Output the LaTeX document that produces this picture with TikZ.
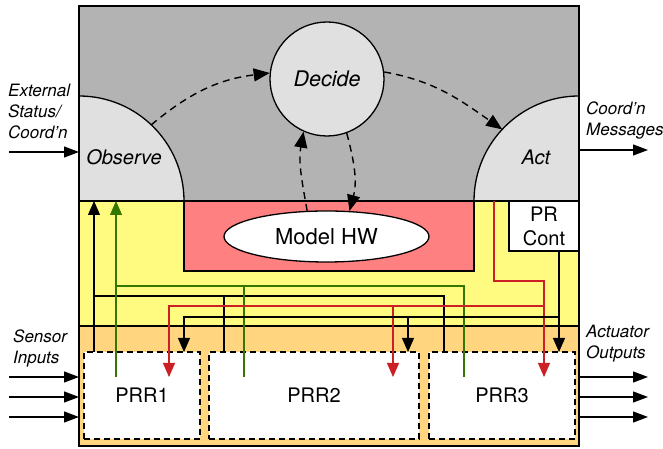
\documentclass[tikz,border=0pt]{standalone}
\usepackage{fontspec}
\setmainfont{TeX Gyre Heros}
\usetikzlibrary{arrows.meta,shapes.geometric}
\definecolor{bggrey}{RGB}{179,179,179}
\definecolor{lightg}{RGB}{224,224,224}
\definecolor{yell}{RGB}{255,250,128}
\definecolor{orng}{RGB}{255,213,128}
\definecolor{pink}{RGB}{255,128,128}
\definecolor{wred}{RGB}{204,31,38}
\definecolor{wgreen}{RGB}{51,119,0}
\begin{document}
\begin{tikzpicture}[x=1pt,y=1pt,
  border/.style={draw=black,line width=1.3pt},
  bubble/.style={fill=lightg,draw=black,line width=1.3pt},
  lbl/.style={font=\fontsize{20}{24}\selectfont},
  ilbl/.style={font=\fontsize{20}{24}\selectfont\itshape},
  ext/.style={font=\fontsize{17}{21}\selectfont\itshape,align=left,inner sep=0pt,anchor=west},
  prr/.style={draw=black,dash pattern=on 6pt off 4pt,fill=white,line width=1.3pt,inner sep=0pt,font=\fontsize{20}{24}\selectfont},
  wire/.style={line width=1.1pt},
  tip/.style={-{Triangle[length=14pt,width=12pt]}},
  flow/.style={line width=1.4pt,dash pattern=on 7pt off 5pt,-{Triangle[length=16pt,width=13pt]}},
  io/.style={line width=1.3pt,-{Triangle[length=15pt,width=11pt]}}
]
\useasboundingbox (0,0) rectangle (663,449);
% regions
\fill[bggrey] (79,248) rectangle (579,443);
\fill[yell] (79,123) rectangle (579,248);
\fill[orng] (79,3) rectangle (579,123);
\node[border,fill=pink,minimum width=290pt,minimum height=70pt,inner sep=0pt] (modelbox) at (329,213) {};
% Observe and Act quarter discs
\filldraw[bubble] (79,248) -- (79,353) arc[start angle=90,end angle=0,radius=105] -- cycle;
\filldraw[bubble] (579,248) -- (579,353) arc[start angle=90,end angle=180,radius=105] -- cycle;
\node[ilbl] (observe) at (124,292) {Observe};
\node[ilbl] (act) at (536,292) {Act};
\coordinate (obsA) at (151.3,324.2);
\coordinate (actA) at (502.2,319.6);
% Decide
\node[bubble,circle,minimum size=114pt,inner sep=0pt,font=\fontsize{21.5}{24}\selectfont\itshape] (decide) at (327,370) {Decide};
% Model HW
\node[ellipse,draw=black,fill=white,line width=1.3pt,minimum width=205pt,minimum height=51pt,inner sep=0pt,font=\fontsize{22}{24}\selectfont] (mhw) at (326.5,212.5) {Model HW};
% PR Cont
\node[border,fill=white,minimum width=70pt,minimum height=50pt,inner sep=0pt,align=center,lbl] (prc) at (544,223) {PR\\Cont};
% PRR boxes
\node[prr,minimum width=116pt,minimum height=87pt] (prr1) at (142,53.5) {PRR1};
\node[prr,minimum width=210pt,minimum height=87pt] (prr2) at (314,53.5) {PRR2};
\node[prr,minimum width=146pt,minimum height=87pt] (prr3) at (502,53.5) {PRR3};
% section lines
\draw[border] (79,248) -- (579,248);
\draw[border] (79,123) -- (579,123);
\draw[border] (79,3) rectangle (579,443);
% dashed flow arrows
\draw[flow] (obsA) to[out=40,in=187] (decide.174);
\draw[flow] (decide.7) to[out=-10,in=145] (actA);
\draw[flow] (mhw.127) to[out=100,in=-100] (decide.246);
\draw[flow] (decide.290) to[out=-75,in=75] (mhw.48);
% wires: black up to Observe
\coordinate (k1) at (444,97); \coordinate (k1t) at (444,153);
\coordinate (k2) at (224,97); \coordinate (k2t) at (224,153);
\coordinate (k0) at (94,97);
\coordinate (k3) at (94,153); \coordinate (k3e) at (94,248);
\draw[wire] (k2) -- (k2t);
\draw[wire] (k1) -- (k1t) -- (k3);
\draw[wire,tip] (k0) -- (k3e);
% green up to Observe
\coordinate (g1) at (464,72); \coordinate (g1t) at (464,163);
\coordinate (g2) at (244,72); \coordinate (g2t) at (244,163);
\coordinate (g0) at (116,72);
\coordinate (g3) at (116,163); \coordinate (g3e) at (116,248);
\draw[wire,wgreen] (g2) -- (g2t);
\draw[wire,wgreen] (g1) -- (g1t) -- (g3);
\draw[wire,wgreen,-{Triangle[length=14pt,width=12pt]}] (g0) -- (g3e);
% red from Act down
\coordinate (r0) at (494,248); \coordinate (r1) at (494,168); \coordinate (r2) at (544,168);
\coordinate (r3) at (544,72); \coordinate (r4) at (544,143); \coordinate (r5) at (169,143);
\coordinate (r6) at (169,72); \coordinate (r7) at (393,143); \coordinate (r8) at (393,72);
\draw[wire,wred,-{Triangle[length=14pt,width=12pt]}] (r0) -- (r1) -- (r2) -- (r3);
\draw[wire,wred,-{Triangle[length=14pt,width=12pt]}] (r4) -- (r5) -- (r6);
\draw[wire,wred,-{Triangle[length=14pt,width=12pt]}] (r7) -- (r8);
% black down from PR Cont
\coordinate (c0) at (559,198); \coordinate (c1) at (559,97); \coordinate (c2) at (559,132);
\coordinate (c3) at (184,132); \coordinate (c4) at (184,97);
\coordinate (c5) at (408,132); \coordinate (c6) at (408,97);
\draw[wire,tip] (c0) -- (c1);
\draw[wire,tip] (c2) -- (c3) -- (c4);
\draw[wire,tip] (c5) -- (c6);
% external arrows
\coordinate (eA) at (9,297); \coordinate (eB) at (79,297);
\draw[io] (eA) -- (eB);
\coordinate (mA) at (579,299); \coordinate (mB) at (648,299);
\draw[io] (mA) -- (mB);
\foreach \y [count=\i] in {72,52,32} {
  \coordinate (si\i) at (9,\y); \coordinate (sj\i) at (79,\y);
  \draw[io] (si\i) -- (sj\i);
  \coordinate (ai\i) at (579,\y); \coordinate (aj\i) at (648,\y);
  \draw[io] (ai\i) -- (aj\i);
}
% labels
\node[ext] (extl) at (8,338) {External\\Status/\\Coord'n};
\node[ext] (msgl) at (586,328.5) {Coord'n\\Messages};
\node[ext] (senl) at (13,100.5) {Sensor\\Inputs};
\node[ext] (actl) at (586,105) {Actuator\\Outputs};
\end{tikzpicture}
\end{document}
